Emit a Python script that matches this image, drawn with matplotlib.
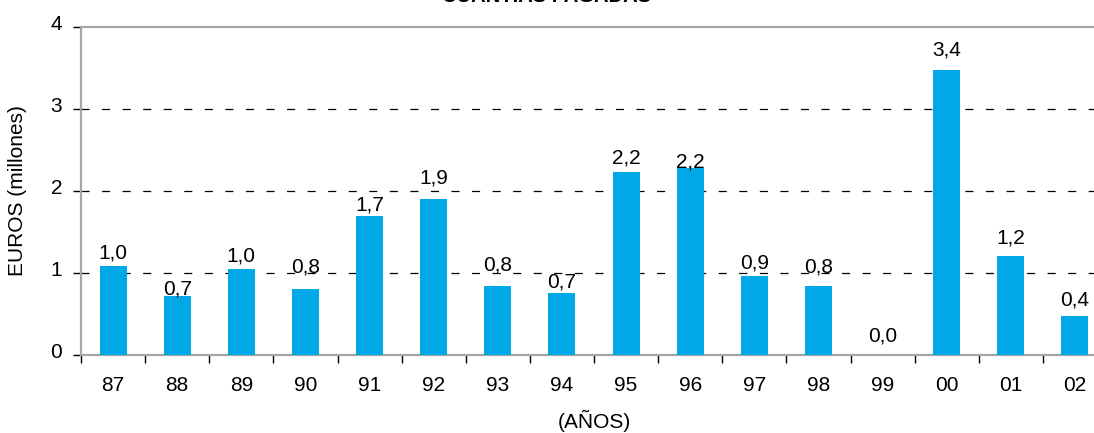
import math
import matplotlib
matplotlib.use("Agg")
import matplotlib.pyplot as plt
from matplotlib.transforms import ScaledTranslation

plt.rcParams['font.family'] = ['Liberation Sans', 'DejaVu Sans']
plt.rcParams['lines.scale_dashes'] = False

years = ["87", "88", "89", "90", "91", "92", "93", "94",
         "95", "96", "97", "98", "99", "00", "01", "02"]
amounts = [1.09, 0.72, 1.05, 0.80, 1.70, 1.90, 0.84, 0.76,
           2.23, 2.28, 0.96, 0.84, 0.00, 3.47, 1.21, 0.47]
y_ticks = [0, 1, 2, 3, 4]

# gap (px) between each bar top and the baseline of its value label
label_gap_px = [7, 1, 7, 17, 5, 16, 16, 5, 9, 1, 8, 14, 13, 15, 12, 11]

title = "CUANTIAS PAGADAS"
y_label = "EUROS (millones)"
x_label = "(AÑOS)"

W, H = 1094, 433
fig = plt.figure(figsize=(W / 100, H / 100), dpi=100)
left, right, top, bottom = 81, 1107, 27, 355
ax = fig.add_axes([left / W, (H - bottom) / H, (right - left) / W, (bottom - top) / H])

bar_color = "#00A8E8"
spine_color = "#A6A6A6"
fs = 15

x = list(range(len(years)))
ax.bar(x, amounts, width=0.42, color=bar_color, zorder=3)

def one_decimal(v):
    return f"{math.floor(v * 10 + 1e-9) / 10:.1f}".replace(".", ",")

for xi, v, gap in zip(x, amounts, label_gap_px):
    ax.annotate(one_decimal(v), (xi, v), xytext=(0, gap * 0.72), textcoords="offset points",
                ha="center", va="baseline", fontsize=fs, color="black", zorder=4)

ax.set_xlim(-0.5, len(years) - 0.5)
ax.set_ylim(0, 4)

# dashed horizontal gridlines
for g in y_ticks[1:-1]:
    ax.axhline(g, color="black", lw=0.9, linestyle=(0, (5.8, 9.0)), zorder=1)

ax.set_yticks(y_ticks)
ax.set_yticklabels([str(t) for t in y_ticks], fontsize=fs)
ax.tick_params(axis="y", direction="out", length=5.5, width=1, color="black", pad=8)
lift = ScaledTranslation(0, 4 / 100, fig.dpi_scale_trans)
for lab in ax.get_yticklabels():
    lab.set_transform(lab.get_transform() + lift)

# category labels at centres, tick marks at boundaries
ax.set_xticks(x)
ax.set_xticklabels(years, fontsize=fs)
ax.tick_params(axis="x", which="major", length=0, pad=15)
ax.set_xticks([i - 0.5 for i in range(len(years) + 1)], minor=True)
ax.tick_params(axis="x", which="minor", direction="out", length=6, width=1, color="black")

for side in ["left", "bottom", "top", "right"]:
    ax.spines[side].set_color(spine_color)
    ax.spines[side].set_linewidth(1.6)

ax.set_ylabel(y_label, fontsize=fs, labelpad=17)
ax.set_xlabel(x_label, fontsize=fs, labelpad=11)

fig.text(0.5, 1 - 2 / H, title, ha="center", va="baseline",
         fontsize=14.5, fontweight="bold")

fig.savefig("out.png", dpi=100)
